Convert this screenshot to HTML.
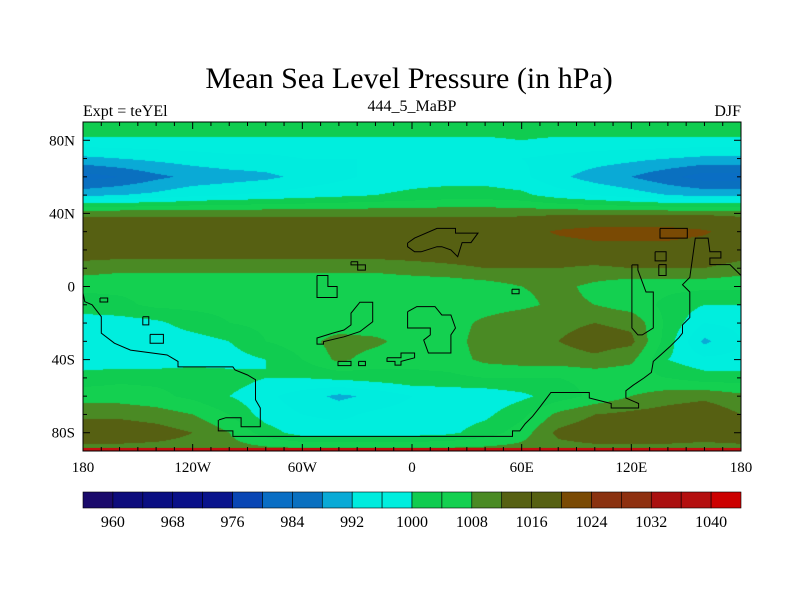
<!DOCTYPE html>
<html><head><meta charset="utf-8">
<style>
body{margin:0;background:#fff;}
#wrap{position:relative;width:800px;height:600px;overflow:hidden;background:#fff;font-family:"Liberation Serif",serif;}
svg text{font-family:"Liberation Serif",serif;}
</style></head>
<body>
<div id="wrap">
<canvas id="map" width="658" height="329" style="position:absolute;left:83px;top:122px;"></canvas>
<svg id="ov" width="800" height="600" style="position:absolute;left:0;top:0;"></svg>
</div>
<script>
const levels=[960,964,968,972,976,980,984,988,992,996,1000,1004,1008,1012,1016,1020,1024,1028,1032,1036,1040];
const colors=["#1a0a6b","#0d0c7c","#0a0e82","#0a1088","#0a148c","#0a46b4","#0a6ec4","#0a70c0","#0aaad6","#00ecde","#00eede","#10cc50","#14d050","#4a8a24","#566012","#566012","#7a4a04","#8a3210","#8e3010","#aa1010","#b41010","#cc0000"];
const barLabels=["960","968","976","984","992","1000","1008","1016","1024","1032","1040"];
const lons=[-180,-160,-140,-120,-100,-80,-60,-40,-20,0,20,40,60,80,100,120,140,160,180];
const lats=[90,80,70,60,50,40,30,20,10,0,-10,-20,-30,-40,-50,-60,-70,-80,-90];
const slp=[
[1004,1004,1004,1004,1004,1004,1004,1004,1004,1004,1004,1004,1004,1004,1004,1004,1004,1004,1004],
[999,999,999,999,999,999,999,999,999,999,999,999,1000,999,999,999,999,999,999],
[991,992,993,994,995,995,996,996,996,996,996,996,996,995,994,993,992,991,991],
[982,984,987,989,990,991,993,995,997,998,998,998,997,993,990,988,985,982,982],
[991,992,993,995,996,997,998,999,1000,1001,1002,1002,1001,998,996,994,992,991,991],
[1011,1011,1011,1011,1011,1011,1011,1011,1011,1011,1011,1011,1011,1011,1011,1011,1011,1011,1011],
[1016,1016,1016,1016,1016,1016,1016,1016,1016,1016,1016,1016,1017,1021,1023,1023,1023,1021,1016],
[1015,1015,1015,1015,1015,1015,1015,1015,1015,1015,1015,1015,1015,1016,1017,1017,1017,1016,1015],
[1010,1009,1009,1009,1009,1009,1009,1009,1009,1010,1011,1012,1012,1012,1011,1012,1012,1012,1010],
[1005,1005,1005,1005,1005,1005,1005,1005,1005,1005,1005,1006,1008,1009,1007,1005,1005,1005,1005],
[1002,1003,1005,1005,1005,1005,1005,1005,1005,1005,1005,1006,1007,1009,1008,1006,1003,1000,1000],
[998,998,999,1002,1004,1005,1005,1005,1005,1005,1006,1009,1011,1011,1012,1011,1003,996,997],
[997,997,997,998,1000,1004,1006,1010,1009,1006,1006,1010,1011,1012,1014,1013,1002,991,996],
[997,997,997,998,998,1000,1004,1009,1006,1005,1006,1009,1010,1010,1011,1009,1000,997,997],
[1002,1003,1003,1003,1002,1000,1000,1001,1002,1003,1003,1004,1004,1004,1005,1005,1004,1002,1002],
[1006,1006,1005,1003,1000,997,994,991,993,996,997,997,999,1002,1005,1008,1010,1011,1009],
[1011,1011,1010,1008,1004,998,996,995,997,998,998,999,1003,1009,1012,1013,1014,1015,1012],
[1015,1015,1014,1012,1008,1002,998,998,998,998,999,1002,1006,1013,1015,1015,1015,1014,1015],
[1010,1010,1010,1010,1010,1010,1010,1010,1010,1010,1010,1010,1010,1010,1010,1010,1010,1010,1010]];
const xTicks=[-180,-120,-60,0,60,120,180];
const xTickLabels=["180","120W","60W","0","60E","120E","180"];
const yTicks=[80,40,0,-40,-80];
const yTickLabels=["80N","40N","0","40S","80S"];
const coasts=[
[[-106,-73],[-106,-79],[-98,-79],[-98,-82],[55,-82],[55,-79],[59,-79],[62,-75],[66,-71],[70,-66],[73,-62],[76,-58],[97,-58],[97,-61],[109,-64],[109,-66.5],[124,-66.5],[124,-64],[117,-61],[117,-57],[121,-54],[127,-50],[131,-47],[132,-41],[136,-37.5],[141,-33],[146,-28],[148,-25.5],[148,-21],[152,-17],[152,-3],[148,1],[152,5],[155,26.5],[162,26.5],[163,19],[169,19],[169,15.6],[163,15.6],[163,12],[174,12],[180,6],[180,2]],
[[-105.6,-73],[-101.8,-71.8],[-93.5,-71.8],[-93.5,-76.7],[-83,-76.7],[-83,-66.5],[-85.6,-62],[-85.6,-51],[-90,-48.4],[-96.8,-45.7],[-98,-44],[-128,-44],[-128,-41],[-134,-37.5],[-154,-34.8],[-162.8,-31],[-170,-25.5],[-170,-16.5],[-175,-10],[-179,-8.3],[-180,-3.6]],
[[-2.4,-13.8],[2.6,-11],[12.6,-11],[16.3,-15.6],[21.3,-15.6],[23.8,-22.7],[21.3,-26.5],[21.3,-36.4],[9,-36.4],[6.4,-29.3],[10,-26.5],[10,-22.7],[-2.4,-22.7],[-2.4,-13.8]],
[[-52,-31],[-52,-28.2],[-43.4,-25.5],[-37.2,-23.8],[-33.4,-21],[-33.4,-14.6],[-28.5,-8.6],[-21.5,-8.6],[-21.5,-19.3],[-28.5,-24.7],[-37.2,-27.5],[-48.4,-30.2],[-48.4,-31.5],[-52,-31.5],[-52,-31]],
[[-52,6],[-46,6],[-46,0],[-41,0],[-41,-6],[-52,-6],[-52,6]],
[[-2.4,23.8],[1.4,26.5],[13.7,31.8],[23.8,31.8],[23.8,29.2],[36.1,29.2],[32.3,24],[27.4,24],[25,16.3],[21.3,20],[16.3,21.8],[13.7,21.8],[5,19],[1.4,19],[-2.4,21.8],[-2.4,23.8]],
[[-33.4,13.5],[-29.7,13.5],[-29.7,11.8],[-25.5,11.8],[-25.5,9],[-29.7,9],[-29.7,11.8],[-33.4,11.8],[-33.4,13.5]],
[[54.7,-1.5],[58.6,-1.5],[58.6,-4],[54.7,-4],[54.7,-1.5]],
[[-170.7,-6.3],[-166.5,-6.3],[-166.5,-8.5],[-170.7,-8.5],[-170.7,-6.3]],
[[-147.3,-16.5],[-144,-16.5],[-144,-21],[-147.3,-21],[-147.3,-16.5]],
[[-143.3,-26.2],[-136,-26.2],[-136,-31],[-143.3,-31],[-143.3,-26.2]],
[[-40.5,-41],[-33.4,-41],[-33.4,-43.3],[-40.5,-43.3],[-40.5,-41]],
[[-29.2,-41],[-25.5,-41],[-25.5,-43.3],[-29.2,-43.3],[-29.2,-41]],
[[-13.7,-39],[-6,-39],[-6,-36.4],[1.4,-36.4],[1.4,-39],[-6,-41],[-6,-43],[-9.3,-43],[-9.3,-41],[-13.7,-41],[-13.7,-39]],
[[120.3,11.8],[123.6,11.8],[123.6,9],[128,-3],[132,-3],[132,-22.7],[126,-26.5],[123.6,-26.5],[120.3,-22.7],[120.3,11.8]],
[[135.7,31.8],[150.6,31.8],[150.6,26.5],[135.7,26.5],[135.7,31.8]],
[[133,19],[139,19],[139,14],[133,14],[133,19]],
[[135,12],[139,12],[139,6],[135,6],[135,12]]];

const PX=83,PY=122,PW=658,PH=329;
function xScale(lon){return PX+(lon+180)/360*PW;}
function yScale(lat){return PY+(90-lat)/180*PH;}
function hex(c){return [parseInt(c.slice(1,3),16),parseInt(c.slice(3,5),16),parseInt(c.slice(5,7),16)];}

const cv=document.getElementById('map');const ctx=cv.getContext('2d');
const img=ctx.createImageData(PW,PH);
const rgb=colors.map(hex);
const dLon=lons[1]-lons[0],dLat=lats[0]-lats[1];
for(let py=0;py<PH;py++){
  const lat=90-(py+0.5)/PH*180;
  let fy=(lats[0]-lat)/dLat;let j=Math.min(Math.floor(fy),lats.length-2);let ty=fy-j;
  for(let px=0;px<PW;px++){
    const lon=-180+(px+0.5)/PW*360;
    let fx=(lon-lons[0])/dLon;let i=Math.min(Math.floor(fx),lons.length-2);let tx=fx-i;
    const v=(slp[j][i]*(1-tx)+slp[j][i+1]*tx)*(1-ty)+(slp[j+1][i]*(1-tx)+slp[j+1][i+1]*tx)*ty;
    let k=0;while(k<levels.length&&levels[k]<=v)k++;
    const c=rgb[k];const o=(py*PW+px)*4;
    img.data[o]=c[0];img.data[o+1]=c[1];img.data[o+2]=c[2];img.data[o+3]=255;
  }
}
ctx.putImageData(img,0,0);

const NS='http://www.w3.org/2000/svg';
const svg=document.getElementById('ov');
function mk(tag,attrs,parent){const e=document.createElementNS(NS,tag);for(const k in attrs)e.setAttribute(k,attrs[k]);(parent||svg).appendChild(e);return e;}

const pole=mk('rect',{x:PX,y:yScale(-88.3),width:PW,height:yScale(-90)-yScale(-88.3),fill:'#c01010'});



const cg=mk('g',{});


coasts.forEach(c=>{
  const p=mk('polyline',{points:c.map(q=>xScale(q[0]).toFixed(1)+','+yScale(q[1]).toFixed(1)).join(' '),fill:'none',stroke:'#000','stroke-width':1},cg);
  
  
});

const fr=mk('rect',{x:PX,y:PY,width:PW,height:PH,fill:'none',stroke:'#000','stroke-width':1});



const tg=mk('g',{stroke:'#000','stroke-width':1});


for(let lon=-180;lon<=180;lon+=10){
  const x=xScale(lon);const L=(lon%60===0)?7:4;
  mk('line',{x1:x,y1:PY+PH,x2:x,y2:PY+PH-L},tg);
  mk('line',{x1:x,y1:PY,x2:x,y2:PY+L},tg);
}
for(let lat=-90;lat<=90;lat+=10){
  const y=yScale(lat);const L=(lat%40===0)?7:4;
  mk('line',{x1:PX,y1:y,x2:PX+L,y2:y},tg);
  mk('line',{x1:PX+PW,y1:y,x2:PX+PW-L,y2:y},tg);
}
xTicks.forEach((lon,i)=>{
  const t=mk('text',{x:xScale(lon),y:472,'text-anchor':'middle','font-size':15});
  t.textContent=xTickLabels[i];
  
  
});
yTicks.forEach((lat,i)=>{
  const t=mk('text',{x:PX-8,y:yScale(lat)+5,'text-anchor':'end','font-size':15});
  t.textContent=yTickLabels[i];
  
  
});

function txt(s,x,y,size,anchor,name){const t=mk('text',{x:x,y:y,'font-size':size,'text-anchor':anchor});t.textContent=s;return t;}
txt('Mean Sea Level Pressure (in hPa)',409,88,30,'middle','chart-title');
txt('Expt = teYEl',83,116,16,'start','left-subtitle');
txt('444_5_MaBP',412,111,16,'middle','center-subtitle');
txt('DJF',741,116,16,'end','right-subtitle');

const cb=mk('g',{});


const bw=PW/colors.length;
colors.forEach((c,i)=>{
  const r=mk('rect',{x:PX+i*bw,y:492,width:bw,height:16,fill:c,stroke:'#000','stroke-width':0.6},cb);
  
  
});
barLabels.forEach((s,i)=>{
  const t=mk('text',{x:PX+(1+2*i)*bw,y:527,'font-size':16,'text-anchor':'middle'},cb);
  t.textContent=s;
  
  
});
</script>
</body></html>
